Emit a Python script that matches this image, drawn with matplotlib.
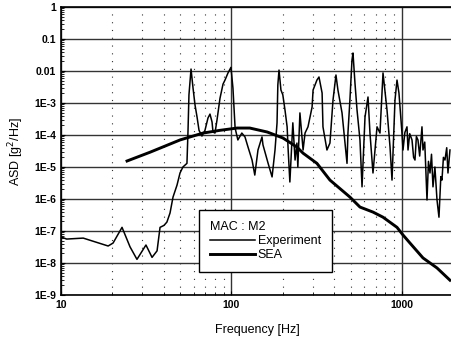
import matplotlib
matplotlib.use("Agg")
import matplotlib.pyplot as plt
from matplotlib.ticker import FixedLocator, LogLocator, NullFormatter, FixedFormatter

plt.rcParams['font.family'] = ['Liberation Sans', 'DejaVu Sans']

# Experiment curve (Hz, g^2/Hz)
exp_freq = [10, 10.8, 13.5, 18.9, 20.2, 22.8, 25.4, 27.9, 31.5, 34.2, 36.6, 38.1, 40.2,
            41.8, 43.6, 45.4, 47.9, 49.9, 51.9, 54.8, 55.6, 56.3, 57.9, 59.5, 61.1, 62.8,
            64.5, 67.1, 69.9, 72.8, 74.8, 76.9, 77.9, 80.0, 82.2, 85.6, 89.2, 91.6, 95.4,
            99.3, 102, 105, 109, 115, 120, 125, 132, 137, 143, 151, 153, 164, 173, 180,
            185, 187, 190, 195, 200, 206, 212, 215, 220, 229, 236, 242, 245, 252, 259,
            263, 270, 281, 297, 301, 317, 326, 340, 344, 363, 378, 394, 410, 421, 445,
            463, 476, 482, 495, 509, 516, 530, 545, 567, 583, 607, 632, 649, 676, 714,
            743, 774, 817, 851, 874, 910, 935, 960,
            1000, 1014, 1040, 1070, 1085, 1110, 1145, 1170, 1192, 1215, 1241, 1270, 1310,
            1328, 1360, 1402, 1430, 1460, 1490, 1520, 1560, 1605, 1648, 1690, 1716, 1750,
            1787, 1830, 1861, 1912]
exp_asd = [6.5e-8, 5.6e-8, 6.0e-8, 3.4e-8, 4.2e-8, 1.3e-7, 3.2e-8, 1.3e-8, 3.65e-8, 1.5e-8,
           2.4e-8, 1.3e-7, 1.5e-7, 1.9e-7, 3.65e-7, 1.15e-6, 2.7e-6, 6.5e-6, 1e-5, 1.3e-5,
           1.4e-4, 1.8e-3, 1.15e-2, 2.9e-3, 8.7e-4, 3.65e-4, 1.4e-4, 9.3e-5, 1.4e-4, 3.4e-4,
           4.5e-4, 2.55e-4, 1.24e-4, 1.15e-4, 2.9e-4, 1.4e-3, 3.9e-3, 5.2e-3, 8.7e-3,
           1.3e-2, 2.9e-3, 1.65e-4, 7e-5, 1.15e-4, 8.7e-5, 4.2e-5, 1.65e-5, 5.6e-6, 3.4e-5,
           8.7e-5, 4.9e-5, 1.3e-5, 4.9e-6, 3.4e-5, 2.4e-4, 3.65e-3, 1.07e-2, 2.55e-3,
           1.8e-3, 6e-4, 1.8e-4, 3.4e-5, 3.4e-6, 2.4e-4, 1.65e-5, 5.6e-5, 1e-5, 4.9e-4,
           8.7e-5, 3.4e-5, 1.15e-4, 1.8e-4, 7.5e-4, 2.55e-3, 5.2e-3, 6.5e-3, 2.05e-3,
           1.8e-4, 3.4e-5, 5.6e-5, 1.24e-3, 7.5e-3, 2.55e-3, 4.9e-4, 5.6e-5, 1.3e-5,
           1.15e-4, 1.24e-3, 2.2e-2, 3.65e-2, 4.2e-3, 6e-4, 7e-5, 2.4e-6, 3.65e-4, 1.54e-3,
           1.15e-4, 6.5e-6, 1.8e-4, 1.15e-4, 8.7e-3, 6e-4, 4.2e-5, 3.9e-6, 1.24e-3, 5.2e-3,
           2.05e-3,
           1.15e-4, 3.4e-5, 1.2e-4, 1.8e-4, 3.4e-5, 1.1e-4, 7e-5, 2e-5, 1.65e-5, 9e-5,
           7e-5, 2.2e-5, 1.8e-4, 3.4e-5, 6e-5, 9.3e-7, 1.5e-5, 6.5e-6, 2.5e-5, 2.4e-6,
           1e-5, 9.3e-7, 2.7e-7, 5e-6, 3.9e-6, 2e-5, 1.65e-5, 4e-5, 6.5e-6, 3.4e-5]

# SEA prediction
sea_freq = [24.4, 33.3, 49.9, 68.1, 85.6, 108, 128, 162, 200, 242, 263, 317, 378, 495,
            567, 676, 774, 935, 1014, 1114, 1328, 1605, 1912]
sea_asd = [1.54e-5, 2.9e-5, 7e-5, 1.15e-4, 1.4e-4, 1.65e-4, 1.65e-4, 1.24e-4, 8.1e-5,
           4.2e-5, 2.7e-5, 1.3e-5, 3.9e-6, 1.15e-6, 5.6e-7, 3.9e-7, 2.7e-7, 1.3e-7, 7.5e-8,
           4.2e-8, 1.44e-8, 7e-9, 2.9e-9]

y_ticks = [1e-9, 1e-8, 1e-7, 1e-6, 1e-5, 1e-4, 1e-3, 1e-2, 1e-1, 1]
y_tick_labels = ['1E-9', '1E-8', '1E-7', '1E-6', '1E-5', '1E-4', '1E-3', '0.01', '0.1', '1']
x_ticks = [10, 100, 1000]
x_tick_labels = ['10', '100', '1000']

fig = plt.figure(figsize=(4.51, 3.37), dpi=100)
ax = fig.add_axes([61/451, 1-295/337, 392.3/451, 288/337])

ax.plot(exp_freq, exp_asd, color='black', lw=1.1, label='Experiment')
ax.plot(sea_freq, sea_asd, color='black', lw=2.1, label='SEA')

ax.set_xscale('log')
ax.set_yscale('log')
ax.set_xlim(10, 2000)
ax.set_ylim(1e-9, 1)

ax.yaxis.set_major_locator(FixedLocator(y_ticks))
ax.yaxis.set_major_formatter(FixedFormatter(y_tick_labels))
ax.yaxis.set_minor_locator(LogLocator(base=10, subs=range(2, 10), numticks=20))
ax.yaxis.set_minor_formatter(NullFormatter())
ax.xaxis.set_major_locator(FixedLocator(x_ticks))
ax.xaxis.set_major_formatter(FixedFormatter(x_tick_labels))
ax.xaxis.set_minor_locator(LogLocator(base=10, subs=range(2, 10), numticks=20))
ax.xaxis.set_minor_formatter(NullFormatter())

ax.grid(True, which='major', axis='both', color='#333333', lw=1.0)
ax.grid(True, which='minor', axis='x', color='#333333', lw=0.8, linestyle=(0, (1, 6)))

ax.tick_params(which='both', direction='in', labelsize=7.5)
ax.tick_params(which='major', length=3)
ax.tick_params(which='minor', length=2)
for lab in ax.get_xticklabels() + ax.get_yticklabels():
    lab.set_fontweight('bold')
for s in ax.spines.values():
    s.set_linewidth(1.2)

ax.set_xlabel('Frequency [Hz]', fontsize=9, labelpad=10)
ax.set_ylabel('ASD [g$^2$/Hz]', fontsize=9, labelpad=6)

leg = ax.legend(loc='upper left', bbox_to_anchor=(199/451, 1-210/337),
                bbox_transform=fig.transFigure, title='MAC : M2', fontsize=9,
                title_fontsize=9, frameon=True, fancybox=False, edgecolor='black',
                framealpha=1, handlelength=3.6, handletextpad=0.2, borderpad=0.9,
                labelspacing=0.15, borderaxespad=0)
leg._legend_box.align = 'left'
leg.get_frame().set_linewidth(1.0)
leg.get_frame().set_width
fig.canvas.draw()

fig.savefig('out.png', dpi=100)
